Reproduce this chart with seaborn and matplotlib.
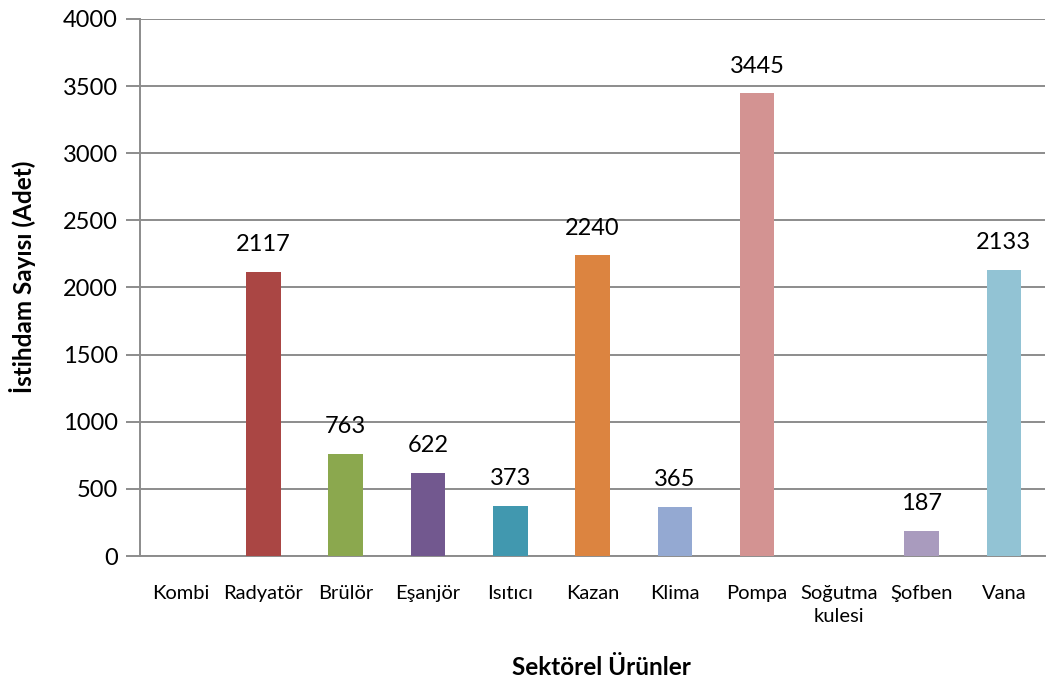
import matplotlib
matplotlib.use("Agg")
import matplotlib.pyplot as plt
import seaborn as sns
import pandas as pd

categories = ["Kombi", "Radyatör", "Brülör", "Eşanjör", "Isıtıcı", "Kazan",
              "Klima", "Pompa", "Soğutma\nkulesi", "Şofben", "Vana"]
values = [0, 2117, 763, 622, 373, 2240, 365, 3445, 0, 187, 2133]
colors = ["#4F81BD", "#AA4644", "#8BA84E", "#72588F", "#4198AF", "#DC8440",
          "#94A9D2", "#D39392", "#A5A5A5", "#A99BBE", "#92C3D4"]
y_ticks = [0, 500, 1000, 1500, 2000, 2500, 3000, 3500, 4000]

sns.set_theme(style="white")
plt.rcParams["font.family"] = ["Lato", "DejaVu Sans"]

df = pd.DataFrame({"urun": categories, "deger": values})

fig = plt.figure(figsize=(10.59, 6.85), dpi=100)
ax = fig.add_axes([0.1322, 0.1883, 0.8546, 0.784])

sns.barplot(data=df, x="urun", y="deger", hue="urun", palette=colors,
            legend=False, width=0.42, saturation=1, linewidth=0,
            ax=ax, zorder=3)

grid_color = "#8C8C8C"
ax.set_ylim(0, 4000)
ax.set_yticks(y_ticks)
ax.set_yticklabels([str(t) for t in y_ticks], fontsize=17, color="#000000")
ax.yaxis.grid(True, color=grid_color, linewidth=1.4, zorder=0)
ax.set_axisbelow(True)

for side in ["top", "right"]:
    ax.spines[side].set_visible(False)
ax.spines["left"].set_color(grid_color)
ax.spines["left"].set_linewidth(1.4)
ax.spines["bottom"].set_color(grid_color)
ax.spines["bottom"].set_linewidth(1.4)

ax.tick_params(axis="y", which="major", left=True, length=10, width=1.4,
               color=grid_color, pad=6)
ax.tick_params(axis="x", which="major", bottom=False, pad=15)
ax.set_xticks(range(len(categories)))
ax.set_xticklabels(categories, fontsize=14.5, linespacing=1.4, va="top",
                   color="#000000")

# value labels above bars with data
for i, v in enumerate(values):
    if v > 0:
        ax.annotate(str(v), xy=(i, v), xytext=(0, 12), textcoords="offset points",
                    ha="center", va="bottom", fontsize=17, color="#000000")

ax.set_xlabel("Sektörel Ürünler", fontsize=17.5, fontweight="bold",
              color="#000000")
ax.set_ylabel("İstihdam Sayısı (Adet)", fontsize=17.5, fontweight="bold",
              color="#000000")
ax.xaxis.set_label_coords(0.51, -0.186)
ax.yaxis.set_label_coords(-0.115, 0.52)

fig.savefig("out.png", dpi=100)
